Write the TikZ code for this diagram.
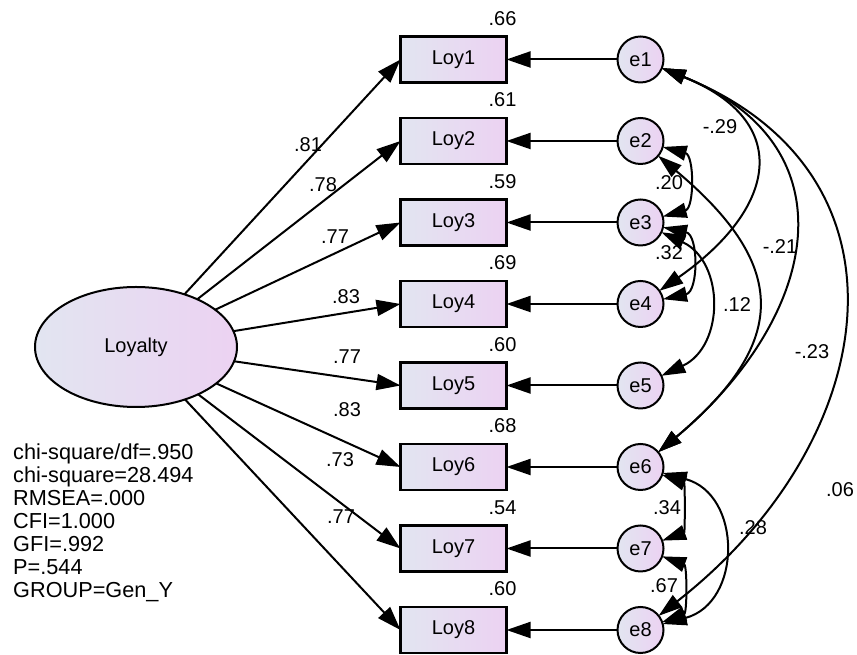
\documentclass[tikz,border=0pt]{standalone}
\usepackage{fontspec}
\setmainfont{Liberation Sans}
\usetikzlibrary{shapes.geometric,positioning,arrows.meta}

\definecolor{amosblue}{RGB}{226,229,241}
\definecolor{amospink}{RGB}{236,210,242}

\tikzset{
  latent/.style={ellipse, draw, line width=2pt, outer sep=0pt,
    minimum width=202pt, minimum height=120pt,
    left color=amosblue, right color=amospink, font=\fontsize{20}{20}\selectfont},
  obsbox/.style={rectangle, draw, line width=2.2pt, outer sep=0pt,
    minimum width=106pt, minimum height=46pt,
    left color=amosblue, right color=amospink, font=\fontsize{20}{20}\selectfont},
  errnode/.style={circle, draw, line width=2pt, outer sep=0pt, inner sep=0pt,
    minimum size=46pt, left color=amosblue, right color=amospink,
    font=\fontsize{20}{20}\selectfont},
  load/.style={line width=2pt, -{Triangle[length=24pt,width=16pt]}},
  cov/.style={line width=2pt, {Triangle[length=24pt,width=15pt]}-{Triangle[length=24pt,width=15pt]}},
  est/.style={font=\fontsize{20}{20}\selectfont, inner sep=1pt},
  fitstat/.style={font=\fontsize{21.7}{23}\selectfont, inner sep=0pt, align=left}
}

\begin{document}
\begin{tikzpicture}[x=1pt,y=1pt,node distance=35.5pt]
  \useasboundingbox (0,0) rectangle (857,655);

  % observed indicators
  \node[obsbox]                   (Loy1) at (453.5,595.5) {Loy1};
  \node[obsbox, below=of Loy1]    (Loy2) {Loy2};
  \node[obsbox, below=of Loy2]    (Loy3) {Loy3};
  \node[obsbox, below=of Loy3]    (Loy4) {Loy4};
  \node[obsbox, below=of Loy4]    (Loy5) {Loy5};
  \node[obsbox, below=of Loy5]    (Loy6) {Loy6};
  \node[obsbox, below=of Loy6]    (Loy7) {Loy7};
  \node[obsbox, below=of Loy7]    (Loy8) {Loy8};

  % error terms
  \node[errnode, right=111pt of Loy1] (e1) {e1};
  \node[errnode, right=111pt of Loy2] (e2) {e2};
  \node[errnode, right=111pt of Loy3] (e3) {e3};
  \node[errnode, right=111pt of Loy4] (e4) {e4};
  \node[errnode, right=111pt of Loy5] (e5) {e5};
  \node[errnode, right=111pt of Loy6] (e6) {e6};
  \node[errnode, right=111pt of Loy7] (e7) {e7};
  \node[errnode, right=111pt of Loy8] (e8) {e8};

  % latent factor
  \node[latent] (Loyalty) at (136,308) {Loyalty};

  % loadings
  \draw[load] (Loyalty) -- (Loy1.west);
  \draw[load] (Loyalty) -- (Loy2.west);
  \draw[load] (Loyalty) -- (Loy3.west);
  \draw[load] (Loyalty) -- (Loy4.west);
  \draw[load] (Loyalty) -- (Loy5.west);
  \draw[load] (Loyalty) -- (Loy6.west);
  \draw[load] (Loyalty) -- (Loy7.west);
  \draw[load] (Loyalty) -- (Loy8.west);

  \node[est] (l1) at (308,510) {.81};
  \node[est] (l2) at (323,470) {.78};
  \node[est] (l3) at (335,418) {.77};
  \node[est] (l4) at (346,358) {.83};
  \node[est] (l5) at (347,298) {.77};
  \node[est] (l6) at (347,245) {.83};
  \node[est] (l7) at (340,195) {.73};
  \node[est] (l8) at (341,138) {.77};

  % errors to indicators
  \draw[load] (e1) -- (Loy1);
  \draw[load] (e2) -- (Loy2);
  \draw[load] (e3) -- (Loy3);
  \draw[load] (e4) -- (Loy4);
  \draw[load] (e5) -- (Loy5);
  \draw[load] (e6) -- (Loy6);
  \draw[load] (e7) -- (Loy7);
  \draw[load] (e8) -- (Loy8);

  % squared multiple correlations
  \node[est, anchor=base] (r1) at ([xshift=-4pt,yshift=11pt]Loy1.north east) {.66};
  \node[est, anchor=base] (r2) at ([xshift=-4pt,yshift=11pt]Loy2.north east) {.61};
  \node[est, anchor=base] (r3) at ([xshift=-4pt,yshift=11pt]Loy3.north east) {.59};
  \node[est, anchor=base] (r4) at ([xshift=-4pt,yshift=11pt]Loy4.north east) {.69};
  \node[est, anchor=base] (r5) at ([xshift=-4pt,yshift=11pt]Loy5.north east) {.60};
  \node[est, anchor=base] (r6) at ([xshift=-4pt,yshift=11pt]Loy6.north east) {.68};
  \node[est, anchor=base] (r7) at ([xshift=-4pt,yshift=11pt]Loy7.north east) {.54};
  \node[est, anchor=base] (r8) at ([xshift=-4pt,yshift=11pt]Loy8.north east) {.60};

  % error covariances
  \draw[cov] (e1) to[out=-22, in=35, looseness=1.64] (e4);
  \draw[cov] (e1) to[out=-22, in=40, looseness=1.39] (e6);
  \draw[cov] (e1) to[out=-22, in=38, looseness=1.32] (e8);
  \draw[cov] (e2) to[out=-15, in=15, looseness=1.21] (e3);
  \draw[cov] (e2) to[out=-40, in=40, looseness=1.48] (e6);
  \draw[cov] (e3) to[out=-12, in=12, looseness=1.30] (e4);
  \draw[cov] (e3) to[out=-25, in=25, looseness=1.25] (e5);
  \draw[cov] (e6) to[out=-20, in=20, looseness=0.95] (e7);
  \draw[cov] (e6) to[out=-15, in=15, looseness=1.40] (e8);
  \draw[cov] (e7) to[out=-20, in=20, looseness=1.04] (e8);

  \node[est] (c14) at (720,528) {-.29};
  \node[est] (c23) at (669,472) {.20};
  \node[est] (c34) at (669,402) {.32};
  \node[est] (c35) at (737,350) {.12};
  \node[est] (c26) at (780,408) {-.21};
  \node[est] (c16) at (812,303) {-.23};
  \node[est] (c18) at (840,165) {.06};
  \node[est] (c67) at (667,147) {.34};
  \node[est] (c68) at (753,127) {.28};
  \node[est] (c78) at (664,69) {.67};

  % fit indices
  \node[fitstat, anchor=north west] (fit) at (13,211) {chi-square/df=.950\\chi-square=28.494\\RMSEA=.000\\CFI=1.000\\GFI=.992\\P=.544\\GROUP=Gen\_Y};
\end{tikzpicture}
\end{document}
